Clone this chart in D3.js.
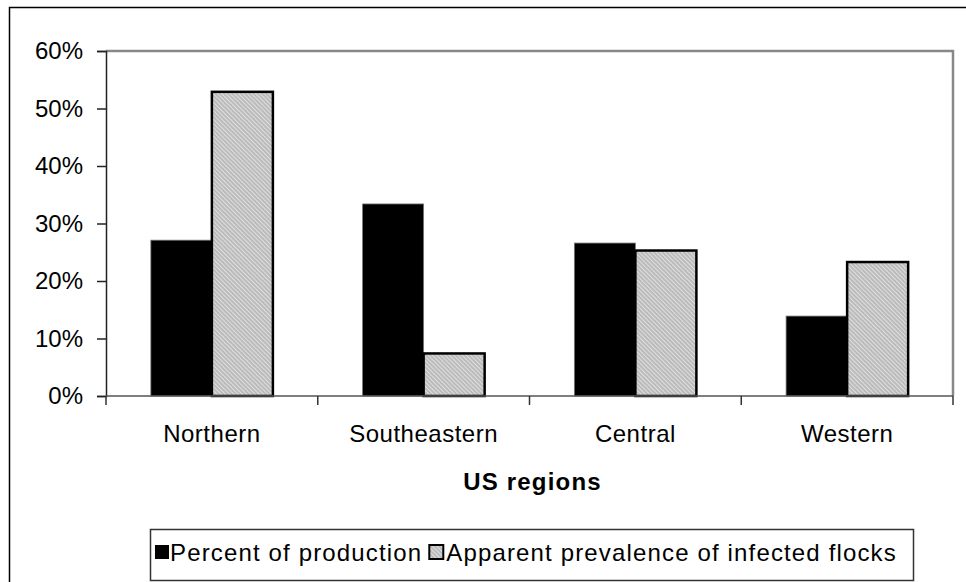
<!DOCTYPE html>
<html>
<head>
<meta charset="utf-8">
<script src="https://cdn.jsdelivr.net/npm/d3@7"></script>
<style>
  html, body { margin: 0; padding: 0; background: #fff; }
  svg { display: block; }
  text { font-family: "Liberation Sans", Arial, sans-serif; fill: #000; }
</style>
</head>
<body>
<svg id="chart" width="966" height="582"></svg>
<script>
const categories = ["Northern", "Southeastern", "Central", "Western"];
const seriesNames = ["Percent of production", "Apparent prevalence of infected flocks"];
const production = [27.1, 33.4, 26.6, 13.9];
const prevalence = [52.9, 7.4, 25.3, 23.3];
const yTicks = [0, 10, 20, 30, 40, 50, 60];
const xTitle = "US regions";

const svg = d3.select("#chart");
const W = 966, H = 582;
const plot = { left: 106, right: 953, top: 51, bottom: 396 };

// pattern for gray bars
const defs = svg.append("defs");
const pat = defs.append("pattern")
  .attr("id", "hatch")
  .attr("patternUnits", "userSpaceOnUse")
  .attr("width", 3).attr("height", 3)
  .attr("patternTransform", "rotate(-45)");
pat.append("rect").attr("width", 3).attr("height", 3).attr("fill", "#b8b8b8");
pat.append("rect").attr("width", 1.2).attr("height", 3).attr("fill", "#dedede");

// outer border
svg.append("rect")
  .attr("x", 9.5).attr("y", 7.5)
  .attr("width", W).attr("height", H)
  .attr("fill", "none").attr("stroke", "#000").attr("stroke-width", 1.5);

const x0 = d3.scaleBand().domain(categories).range([plot.left, plot.right]).paddingInner(0).paddingOuter(0);
const x1 = d3.scaleBand().domain(seriesNames).range([0, x0.bandwidth()]).paddingInner(0).paddingOuter(0.735);
const y = d3.scaleLinear().domain([0, 60]).range([plot.bottom, plot.top]);

// plot area top/right border (gray)
svg.append("path")
  .attr("d", `M${plot.left},${plot.top}H${plot.right}V${plot.bottom}`)
  .attr("fill", "none").attr("stroke", "#888").attr("stroke-width", 2.5);

const data = categories.map((c, i) => ({ cat: c, vals: [production[i], prevalence[i]] }));

const g = svg.append("g");
data.forEach(d => {
  g.append("rect")
    .attr("x", x0(d.cat) + x1(seriesNames[0]))
    .attr("y", y(d.vals[0]))
    .attr("width", x1.bandwidth())
    .attr("height", y(0) - y(d.vals[0]))
    .attr("fill", "#000").attr("stroke", "#777").attr("stroke-width", 0.8);
  g.append("rect")
    .attr("x", x0(d.cat) + x1(seriesNames[1]))
    .attr("y", y(d.vals[1]))
    .attr("width", x1.bandwidth())
    .attr("height", y(0) - y(d.vals[1]))
    .attr("fill", "url(#hatch)").attr("stroke", "#000").attr("stroke-width", 2.5);
});

// Y axis
const yAxis = d3.axisLeft(y).tickValues(yTicks).tickSize(9).tickPadding(14).tickFormat(d => d + "%");
const ya = svg.append("g").attr("transform", `translate(${plot.left},0)`).call(yAxis);
ya.select(".domain").attr("stroke", "#222").attr("stroke-width", 1.5);
ya.selectAll(".tick line").attr("stroke", "#222").attr("stroke-width", 1.5);
ya.selectAll(".tick text").attr("font-size", 24).attr("font-family", "Liberation Sans, Arial, sans-serif").attr("fill", "#000");

// X axis line
svg.append("line")
  .attr("x1", plot.left).attr("x2", plot.right)
  .attr("y1", plot.bottom).attr("y2", plot.bottom)
  .attr("stroke", "#555").attr("stroke-width", 1.5);

// x ticks at category boundaries
const bounds = categories.map(c => x0(c)).concat([plot.right]);
svg.selectAll(".xt").data(bounds).enter().append("line")
  .attr("x1", d => d).attr("x2", d => d)
  .attr("y1", plot.bottom).attr("y2", plot.bottom + 9)
  .attr("stroke", "#333").attr("stroke-width", 1.5);

// category labels
svg.selectAll(".xl").data(categories).enter().append("text")
  .attr("x", d => x0(d) + x0.bandwidth() / 2)
  .attr("y", 442)
  .attr("text-anchor", "middle")
  .attr("font-size", 24)
  .attr("letter-spacing", 0.5)
  .text(d => d);

// x title
svg.append("text")
  .attr("x", (plot.left + plot.right) / 2 + 3)
  .attr("y", 490)
  .attr("text-anchor", "middle")
  .attr("font-size", 24)
  .attr("font-weight", "bold")
  .attr("letter-spacing", 1.2)
  .text(xTitle);

// legend
const lg = svg.append("g");
lg.append("rect")
  .attr("x", 150.5).attr("y", 529.5).attr("width", 763).attr("height", 51)
  .attr("fill", "#fff").attr("stroke", "#333").attr("stroke-width", 1.5);

const ls = 1.15;
const t1x = 170;
lg.append("rect").attr("x", 155).attr("y", 545).attr("width", 14).attr("height", 14).attr("fill", "#000");
const t1 = lg.append("text").attr("x", t1x).attr("y", 561).attr("font-size", 24).attr("letter-spacing", ls).text(seriesNames[0]);
const w1 = t1.node().getComputedTextLength();
const sx2 = t1x + w1 + 7;
lg.append("rect").attr("x", sx2).attr("y", 545).attr("width", 14).attr("height", 14)
  .attr("fill", "url(#hatch)").attr("stroke", "#000").attr("stroke-width", 2);
lg.append("text").attr("x", sx2 + 17).attr("y", 561).attr("font-size", 24).attr("letter-spacing", ls).text(seriesNames[1]);
</script>
</body>
</html>
